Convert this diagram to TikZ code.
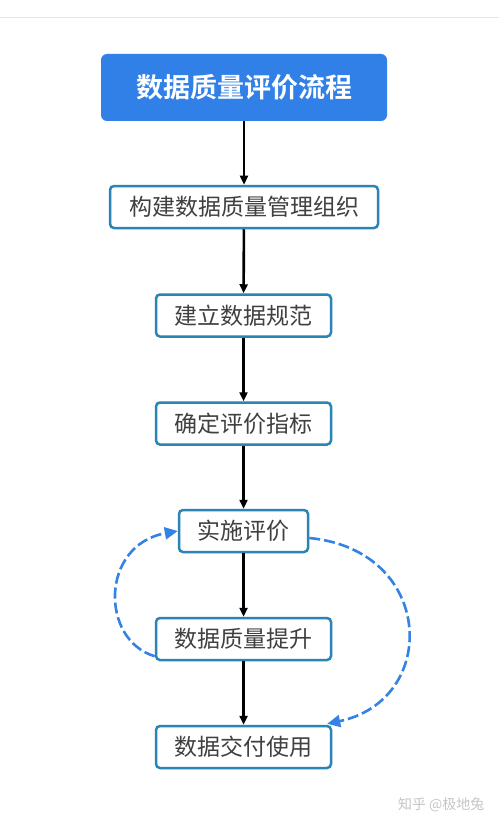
\documentclass[tikz,border=0pt]{standalone}
\usepackage{fontspec}
\newfontfamily\cjk{Noto Sans CJK SC}
\newfontfamily\cjkb{Noto Sans CJK SC Bold}
\usetikzlibrary{arrows.meta,calc}
\definecolor{titleblue}{RGB}{48,128,232}
\definecolor{boxborder}{RGB}{42,132,180}
\definecolor{dashblue}{RGB}{52,130,228}
\definecolor{txt}{RGB}{64,64,64}
\begin{document}
\begin{tikzpicture}[x=1pt,y=-1pt,
  stepbox/.style={draw=boxborder,line width=2.5pt,rounded corners=4pt,fill=white,
    inner sep=0pt,minimum height=42pt,text=txt,font=\cjk\fontsize{23}{26}\selectfont},
  titlebox/.style={fill=titleblue,rounded corners=6pt,inner sep=0pt,
    minimum width=286pt,minimum height=67pt,text=white,font=\cjkb\fontsize{27}{31}\selectfont},
  flow/.style={line width=2.6pt,-{Triangle[length=9pt,width=8pt]}},
  loopline/.style={draw=dashblue,line width=2.6pt,dash pattern=on 11pt off 4pt,
    -{Triangle[length=13pt,width=12pt]}}]
\useasboundingbox (0,0) rectangle (499,829);
\fill[white] (0,0) rectangle (499,829);
\draw[gray!20,line width=1pt] (0,18) -- (499,18);
\node[titlebox] (t) at (244,87.5) {数据质量评价流程};
\node[stepbox,minimum width=268pt] (b1) at (244,207) {构建数据质量管理组织};
\node[stepbox,minimum width=175pt] (b2) at (243.5,315.5) {建立数据规范};
\node[stepbox,minimum width=175pt] (b3) at (243.5,423.5) {确定评价指标};
\node[stepbox,minimum width=129pt] (b4) at (243.5,531) {实施评价};
\node[stepbox,minimum width=175pt] (b5) at (243.5,639) {数据质量提升};
\node[stepbox,minimum width=175pt] (b6) at (243.5,747) {数据交付使用};
\draw[flow] (t) -- (b1);
\draw[flow] (b1) -- (b2);
\draw[flow] (b2) -- (b3);
\draw[flow] (b3) -- (b4);
\draw[flow] (b4) -- (b5);
\draw[flow] (b5) -- (b6);
\coordinate (l0) at ($(b5.south west)+(0,-5)$);
\coordinate (r0) at ($(b4.east)+(0,7)$);
\coordinate (r1) at ($(b6.north east)+(-5,-1)$);
\draw[loopline] (l0) .. controls (100,640) and (100,545) .. (b4.west);
\draw[loopline] (r0) .. controls (435,550) and (440,700) .. (r1);
\node[text=gray!45,font=\cjk\fontsize{14}{16}\selectfont,anchor=east] (wm) at (488,805) {知乎 @极地兔};
\end{tikzpicture}
\end{document}
